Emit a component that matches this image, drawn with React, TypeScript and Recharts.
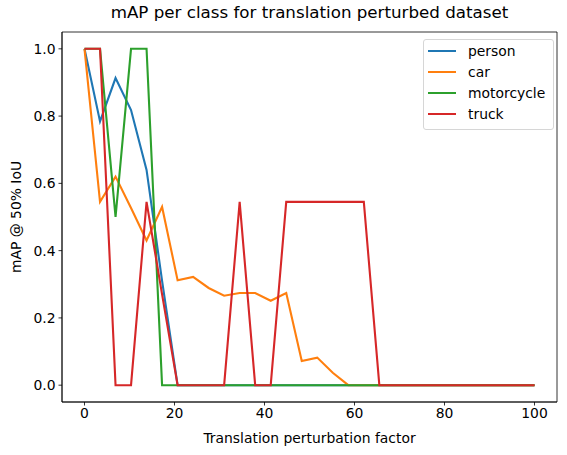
import React from 'react';
import { LineChart, Line, XAxis, YAxis, Label, ReferenceArea } from 'recharts';

const translationFactor = [
  0, 3.45, 6.9, 10.34, 13.79, 17.24, 20.69, 24.14, 27.59, 31.03, 34.48, 37.93, 41.38, 44.83, 48.28,
  51.72, 55.17, 58.62, 62.07, 65.52, 68.97, 72.41, 75.86, 79.31, 82.76, 86.21, 89.66, 93.1, 96.55, 100,
];
const person = [
  1.0, 0.784, 0.913, 0.818, 0.64, 0.31, 0, 0, 0, 0, 0, 0, 0, 0, 0,
  0, 0, 0, 0, 0, 0, 0, 0, 0, 0, 0, 0, 0, 0, 0,
];
const car = [
  1.0, 0.545, 0.62, 0.527, 0.43, 0.53, 0.312, 0.322, 0.289, 0.266, 0.274, 0.274, 0.251, 0.274, 0.072,
  0.082, 0.037, 0, 0, 0, 0, 0, 0, 0, 0, 0, 0, 0, 0, 0,
];
const motorcycle = [
  1.0, 1.0, 0.5, 1.0, 1.0, 0, 0, 0, 0, 0, 0, 0, 0, 0, 0,
  0, 0, 0, 0, 0, 0, 0, 0, 0, 0, 0, 0, 0, 0, 0,
];
const truck = [
  1.0, 1.0, 0, 0, 0.545, 0.27, 0, 0, 0, 0, 0.545, 0, 0, 0.545, 0.545,
  0.545, 0.545, 0.545, 0.545, 0, 0, 0, 0, 0, 0, 0, 0, 0, 0, 0,
];

const xTicks = [0, 20, 40, 60, 80, 100];
const yTicks = [0, 0.2, 0.4, 0.6, 0.8, 1.0];

const series = [
  { key: 'person', color: '#1f77b4' },
  { key: 'car', color: '#ff7f0e' },
  { key: 'motorcycle', color: '#2ca02c' },
  { key: 'truck', color: '#d62728' },
];

const data = translationFactor.map((x, i) => ({
  x,
  person: person[i],
  car: car[i],
  motorcycle: motorcycle[i],
  truck: truck[i],
}));

const FONT = '"DejaVu Sans", sans-serif';
const tickStyle = { fill: '#000', fontSize: 13.9, fontFamily: FONT };

// legend drawn as html so it doesn't eat into the plot area
function LegendBox() {
  return (
    <div
      style={{
        position: 'absolute',
        left: 423,
        top: 39,
        width: 125,
        border: '1px solid #d6d6d6',
        borderRadius: 3,
        background: '#fff',
        padding: '1px 0 5px 4px',
        fontFamily: FONT,
        fontSize: 13.9,
        color: '#000',
      }}
    >
      {series.map((s) => (
        <div key={s.key} style={{ display: 'flex', alignItems: 'center', height: 20.8 }}>
          <span style={{ display: 'inline-block', width: 28, height: 2, background: s.color, marginRight: 12 }} />
          <span>{s.key}</span>
        </div>
      ))}
    </div>
  );
}

export default function App() {
  return (
    <div style={{ position: 'absolute', left: 0, top: 0, width: 567, height: 455, background: '#fff' }}>
      <div
        style={{
          position: 'absolute',
          left: 62,
          width: 495,
          top: 2,
          textAlign: 'center',
          fontFamily: FONT,
          fontSize: 16.7,
          color: '#000',
        }}
      >
        mAP per class for translation perturbed dataset
      </div>
      <LineChart width={567} height={455} data={data} margin={{ top: 32, right: 10, bottom: 0, left: 0 }}>
        <XAxis
          dataKey="x"
          type="number"
          domain={[-5, 105]}
          ticks={xTicks}
          height={53}
          tick={tickStyle}
          tickSize={3.5}
          tickMargin={3}
          axisLine={{ stroke: '#000', strokeWidth: 0.8 }}
          tickLine={{ stroke: '#000', strokeWidth: 0.8 }}
        >
          <Label
            value="Translation perturbation factor"
            position="insideBottom"
            offset={12}
            style={{ fill: '#000', fontSize: 13.9, fontFamily: FONT }}
          />
        </XAxis>
        <YAxis
          type="number"
          domain={[-0.05, 1.05]}
          ticks={yTicks}
          width={62}
          tick={tickStyle}
          tickSize={3.5}
          tickMargin={3}
          tickFormatter={(v: number) => v.toFixed(1)}
          axisLine={{ stroke: '#000', strokeWidth: 0.8 }}
          tickLine={{ stroke: '#000', strokeWidth: 0.8 }}
        >
          <Label
            content={() => (
              <text
                x={16}
                y={217}
                transform="rotate(-90 16 217)"
                textAnchor="middle"
                dominantBaseline="central"
                style={{ fill: '#000', fontSize: 13.9, fontFamily: FONT }}
              >
                mAP @ 50% IoU
              </text>
            )}
          />
        </YAxis>
        <ReferenceArea
          x1={-5}
          x2={105}
          y1={-0.05}
          y2={1.05}
          fill="none"
          stroke="#000"
          strokeWidth={0.8}
          ifOverflow="visible"
        />
        {series.map((s) => (
          <Line
            key={s.key}
            type="linear"
            dataKey={s.key}
            name={s.key}
            stroke={s.color}
            strokeWidth={2.1}
            dot={false}
            activeDot={false}
            isAnimationActive={false}
          />
        ))}
      </LineChart>
      <LegendBox />
    </div>
  );
}
